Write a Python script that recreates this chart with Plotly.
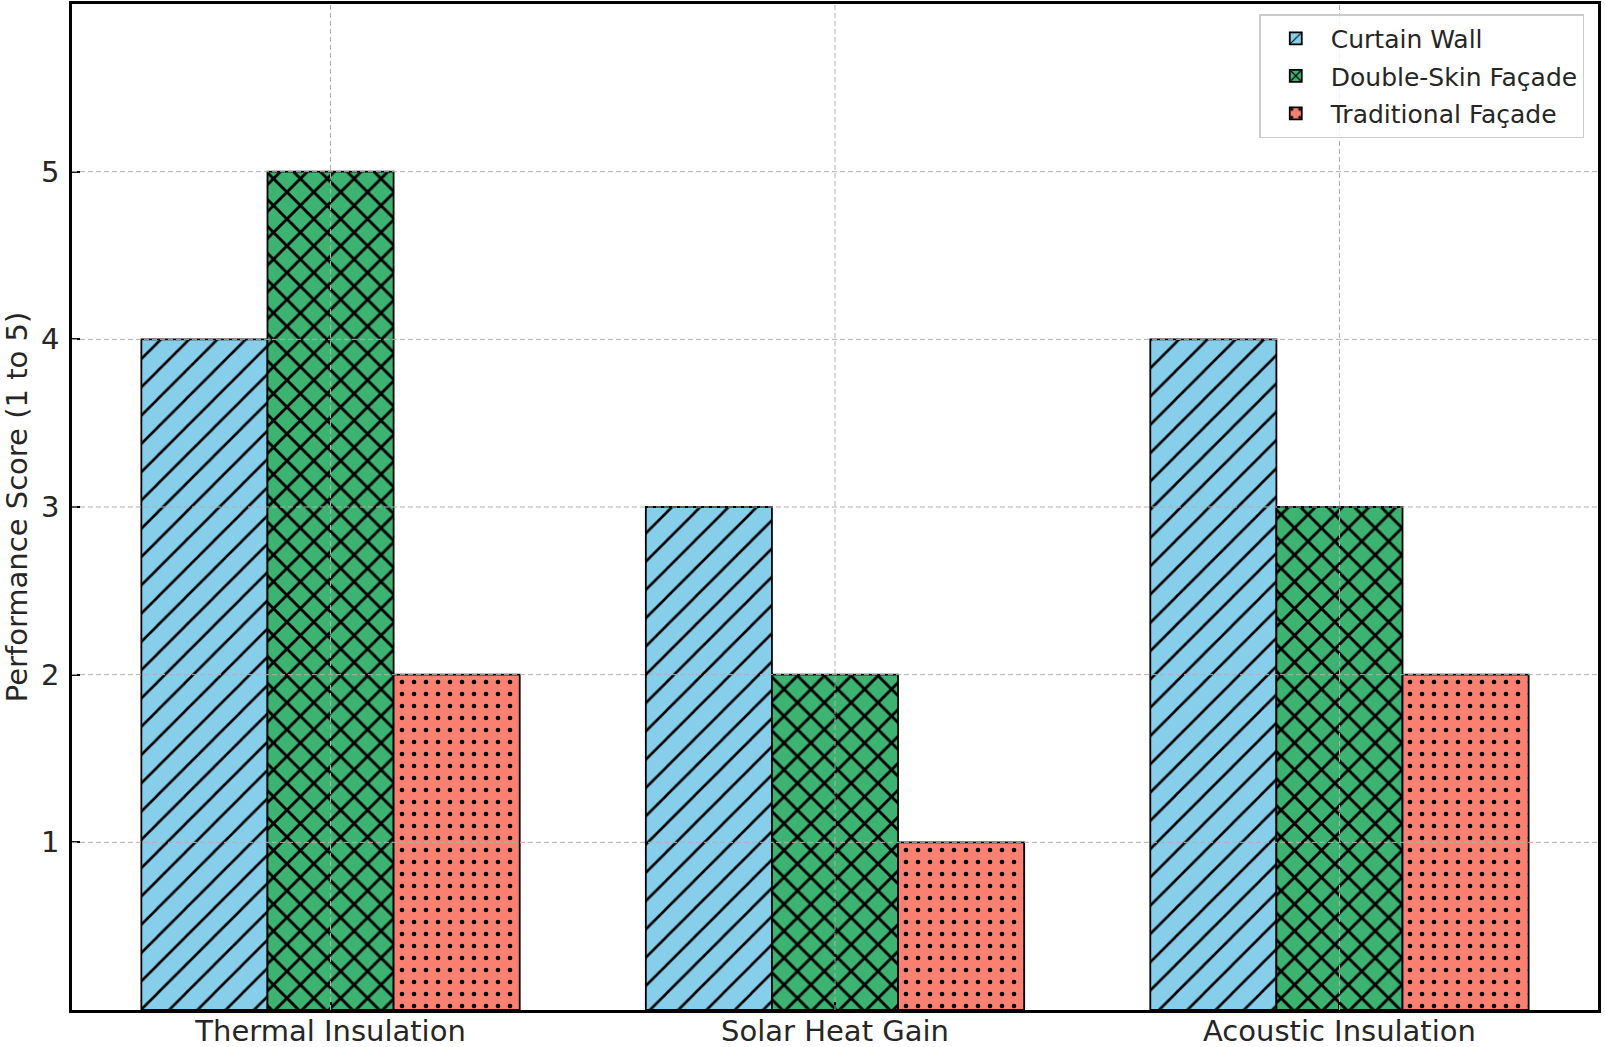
import plotly.graph_objects as go

categories = ["Thermal Insulation", "Solar Heat Gain", "Acoustic Insulation"]
series_names = ["Curtain Wall", "Double-Skin Façade", "Traditional Façade"]
curtain_wall = [4, 3, 4]
double_skin = [5, 2, 3]
traditional = [2, 1, 2]
y_ticks = [1, 2, 3, 4, 5]

values = [curtain_wall, double_skin, traditional]
colors = ["#87CEEB", "#3CB371", "#FA8072"]
patterns = [
    dict(shape="/", size=20, solidity=0.13, fgcolor="black", fgopacity=1),
    dict(shape="x", size=19, solidity=0.28, fgcolor="black", fgopacity=1),
    dict(shape=".", size=12, solidity=0.12, fgcolor="black", fgopacity=1),
]

fig = go.Figure()
for i, (name, vals) in enumerate(zip(series_names, values)):
    fig.add_trace(go.Bar(
        x=categories, y=vals, name=name, legendgroup=name,
        marker=dict(color=colors[i], pattern=dict(bgcolor=colors[i], fillmode="overlay", **patterns[i]),
                    line=dict(color="black", width=1.8)),
    ))

grid = dict(color="#b0b0b0", width=1, dash="5px,3px")
shapes = []
for c in categories:
    shapes.append(dict(type="line", xref="x", yref="paper", x0=c, x1=c, y0=0, y1=1,
                       line=grid, layer="above"))
for t in y_ticks:
    shapes.append(dict(type="line", xref="paper", yref="y", x0=0, x1=1, y0=t, y1=t,
                       line=grid, layer="above"))

font = "DejaVu Sans, sans-serif"
fig.update_layout(
    width=1605, height=1047,
    margin=dict(l=72, r=7, t=4, b=37),
    paper_bgcolor="white", plot_bgcolor="white",
    barmode="group", bargap=0.25, bargroupgap=0,
    font=dict(family=font, size=29, color="#262626"),
    shapes=shapes,
    legend=dict(x=0.991, y=0.99, xanchor="right", yanchor="top",
                bgcolor="rgba(255,255,255,0.85)", bordercolor="#cccccc", borderwidth=1.5,
                font=dict(family=font, size=25, color="#262626"),
                tracegroupgap=2, itemwidth=60),
    showlegend=True,
)
fig.update_xaxes(
    range=[-0.5125, 2.5125], showgrid=False,
    showline=True, linecolor="black", linewidth=2.5, mirror=True,
    ticks="inside", ticklen=8, tickwidth=2, tickcolor="black",
    tickfont=dict(family=font, size=29, color="#262626"),
    ticklabelstandoff=-7,
    layer="above traces", automargin=False,
)
fig.update_yaxes(
    range=[0, 6], tickvals=y_ticks, showgrid=False, zeroline=False,
    showline=True, linecolor="black", linewidth=2.5, mirror=True,
    ticks="inside", ticklen=8, tickwidth=2, tickcolor="black",
    tickfont=dict(family=font, size=29, color="#262626"),
    ticklabelstandoff=4,
    title=dict(text="Performance Score (1 to 5)", font=dict(family=font, size=29, color="#262626"), standoff=10),
    layer="above traces", automargin=False,
)

fig.write_html("out.html", config={"displayModeBar": False},
               post_script="document.body.style.margin='0';")
